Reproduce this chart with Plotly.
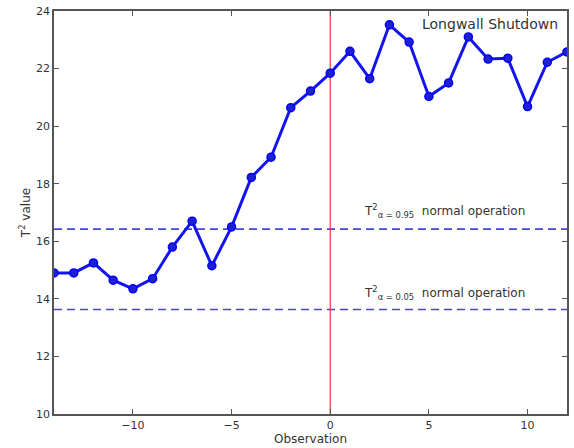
import plotly.graph_objects as go

observations = list(range(-14, 13))
t2_values = [14.9, 14.9, 15.25, 14.65, 14.35, 14.7, 15.8, 16.7, 15.15, 16.5,
             18.22, 18.92, 20.64, 21.22, 21.84, 22.6, 21.65, 23.52, 22.92, 21.03,
             21.5, 23.1, 22.33, 22.36, 20.68, 22.22, 22.58]
limit_095 = 16.42
limit_005 = 13.63
shutdown_obs = 0
x_ticks = [-10, -5, 0, 5, 10]
x_tick_text = ["\u221210", "\u22125", "0", "5", "10"]
y_ticks = [10, 12, 14, 16, 18, 20, 22, 24]

FONT = "DejaVu Sans, Verdana, sans-serif"
TXT = "#333333"

fig = go.Figure()
for lim in [limit_095, limit_005]:
    fig.add_trace(go.Scatter(x=[-14, 12], y=[lim, lim], mode="lines",
                             line=dict(color="#4545e0", width=1.7, dash="8px,5px"),
                             showlegend=False, hoverinfo="skip"))
fig.add_trace(go.Scatter(x=[shutdown_obs, shutdown_obs], y=[10, 24], mode="lines",
                         line=dict(color="#e23a3a", width=1.2),
                         showlegend=False, hoverinfo="skip"))
fig.add_trace(go.Scatter(x=observations, y=t2_values, mode="lines+markers",
                         line=dict(color="#1414ee", width=3),
                         marker=dict(symbol="circle", size=8, color="#2020d0",
                                     line=dict(color="#0000ff", width=1.5)),
                         showlegend=False))

fig.add_annotation(x=1.6, y=17.05, xref="x", yref="y", xanchor="left", yanchor="middle",
                   text="T<sup>2</sup><sub>α = 0.95</sub>  normal operation",
                   showarrow=False, font=dict(family=FONT, size=12, color=TXT))
fig.add_annotation(x=1.6, y=14.2, xref="x", yref="y", xanchor="left", yanchor="middle",
                   text="T<sup>2</sup><sub>α = 0.05</sub>  normal operation",
                   showarrow=False, font=dict(family=FONT, size=12, color=TXT))
fig.add_annotation(x=11.65, y=23.55, xref="x", yref="y", xanchor="right", yanchor="middle",
                   text="Longwall Shutdown", showarrow=False,
                   font=dict(family=FONT, size=14, color=TXT))

axis_common = dict(showline=True, linecolor="#555555", linewidth=1.5, mirror="allticks",
                   ticks="inside", ticklen=5, tickcolor="#555555", showgrid=False,
                   zeroline=False, ticklabeloverflow="allow",
                   tickfont=dict(family=FONT, size=11, color=TXT))
fig.update_xaxes(range=[-14, 12], tickvals=x_ticks, ticktext=x_tick_text,
                 title=dict(text="Observation", standoff=3,
                            font=dict(family=FONT, size=12, color=TXT)),
                 **axis_common)
fig.update_yaxes(range=[10, 24], tickvals=y_ticks,
                 title=dict(text="T<sup>2</sup> value", standoff=3,
                            font=dict(family=FONT, size=12, color=TXT)),
                 **axis_common)
fig.update_layout(width=574, height=448, margin=dict(l=54, r=5, t=10, b=32),
                  plot_bgcolor="white", paper_bgcolor="white")
fig.write_html("out.html", config={"displayModeBar": False},
               post_script="document.body.style.margin='0';document.body.style.padding='0';")
